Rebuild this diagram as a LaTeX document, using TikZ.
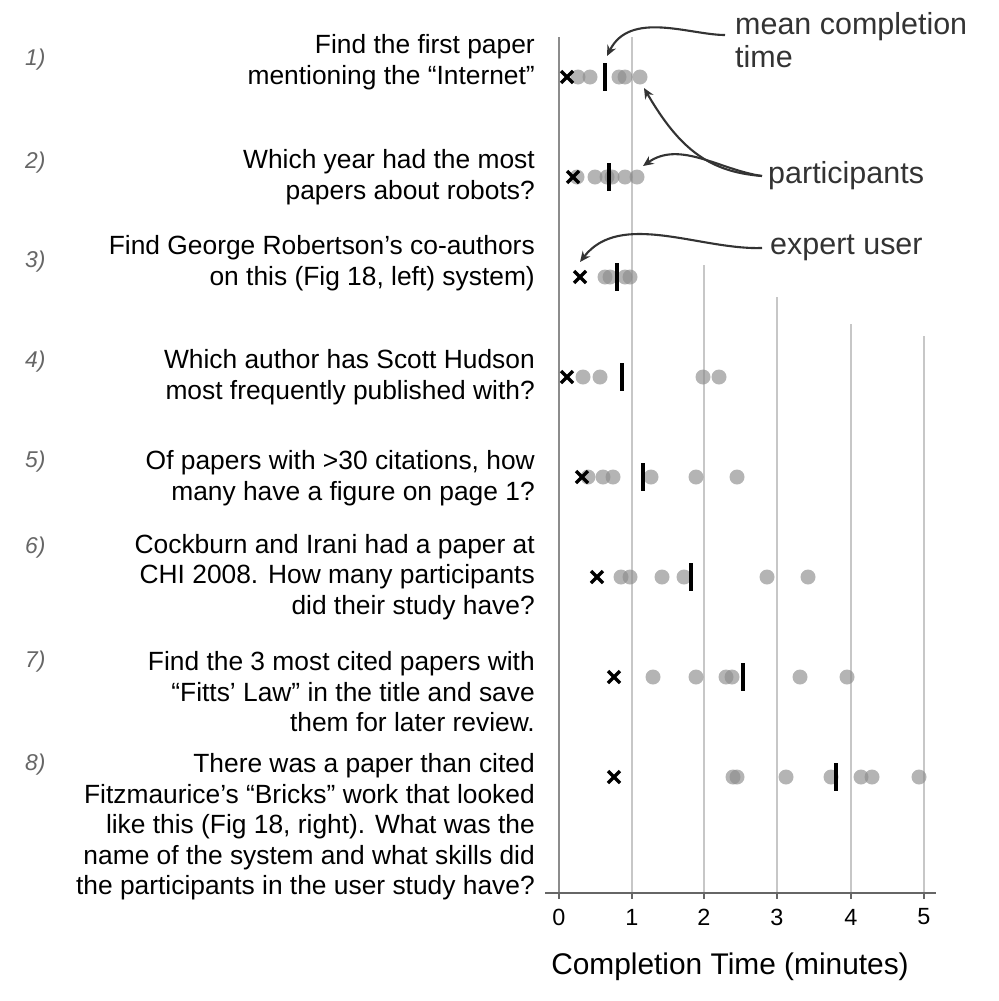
\documentclass[tikz,border=0pt]{standalone}
\usepackage{fontspec}
\setmainfont{Liberation Sans}
\usetikzlibrary{arrows.meta}
\begin{document}
\begin{tikzpicture}[x=0.03cm,y=-0.03cm,
  grid/.style={draw=black!22,line width=1.1pt},
  dot/.style={fill=black!45,fill opacity=0.65,draw=none},
  meanbar/.style={line width=3.4pt,black},
  xmark/.style={line width=2.8pt,black},
  qtext/.style={anchor=east,align=right,inner sep=0,font=\fontsize{22.5}{26}\selectfont},
  qnum/.style={anchor=west,inner sep=0,text=black!60,font=\fontsize{19.5}{22}\selectfont\itshape},
  ann/.style={anchor=west,inner sep=0,text=black!80,font=\fontsize{26}{28}\selectfont},
  annarrow/.style={draw=black!80,line width=1.8pt,-{Stealth[length=9pt,width=8pt]}},
  tick/.style={inner sep=0,font=\fontsize{20}{22}\selectfont}]
\useasboundingbox (0,0) rectangle (998,1001);
% grid
\draw[grid] (632,37) -- (632,893);
\draw[grid] (704,265) -- (704,893);
\draw[grid] (777,297) -- (777,893);
\draw[grid] (851,324) -- (851,893);
\draw[grid] (924,336) -- (924,893);
\draw[draw=black!45,line width=1.2pt] (559,37) -- (559,893);
\draw[draw=black!60,line width=1.3pt] (545,893) -- (936,893);
\foreach \x/\l in {559/0,632/1,704/2,777/3,851/4,924/5}{
  \draw[draw=black!60,line width=1.1pt] (\x,893) -- (\x,899);
  \node[tick] (t\l) at (\x,917) {\l};}
\node[inner sep=0,font=\fontsize{25.5}{28}\selectfont] (xl) at (730,967) {Completion Time (minutes)};
% rows
\newcommand\crossat[2]{\draw[xmark] (#1-6,#2-6) -- (#1+6,#2+6) (#1-6,#2+6) -- (#1+6,#2-6);}
\newcommand\meanat[2]{\draw[meanbar] (#1,#2-14) -- (#1,#2+14);}
\newcommand\dotsat[2]{\foreach \d in {#2}{\fill[dot] (\d,#1) circle[radius=7.5];}}
\dotsat{77}{578,590,619,625,640}\crossat{567}{77}\meanat{605}{77}
\dotsat{177}{577,595,607,612,625,637}\crossat{573}{177}\meanat{609}{177}
\dotsat{277}{605,610,625,630}\crossat{580}{277}\meanat{617}{277}
\dotsat{377}{583,600,703,719}\crossat{567}{377}\meanat{622}{377}
\dotsat{477}{588,603,613,651,696,737}\crossat{582}{477}\meanat{643}{477}
\dotsat{577}{621,630,662,684,767,808}\crossat{597}{577}\meanat{691}{577}
\dotsat{677}{653,696,726,732,800,847}\crossat{614}{677}\meanat{743}{677}
\dotsat{777}{733,737,786,831,861,872,919}\crossat{614}{777}\meanat{836}{777}
% questions
\node[qtext] (q1) at (535,62) {Find the first paper\\mentioning the “Internet”};
\node[qtext] (q2) at (535,177) {Which year had the most\\papers about robots?};
\node[qtext] (q3) at (535,263) {Find George Robertson’s co-authors\\on this (Fig 18, left) system)};
\node[qtext] (q4) at (535,377) {Which author has Scott Hudson\\most frequently published with?};
\node[qtext] (q5) at (535,478) {Of papers with >30 citations, how\\many have a figure on page 1?};
\node[qtext] (q6) at (535,577) {Cockburn and Irani had a paper at\\CHI 2008. How many participants\\did their study have?};
\node[qtext] (q7) at (535,692) {Find the 3 most cited papers with\\“Fitts’ Law” in the title and save\\them for later review.};
\node[qtext] (q8) at (535,827) {There was a paper than cited\\Fitzmaurice’s “Bricks” work that looked\\like this (Fig 18, right). What was the\\name of the system and what skills did\\the participants in the user study have?};
\foreach \n/\y in {1/60,2/163,3/262,4/362,5/462,6/548,7/662,8/765}
  \node[qnum] (n\n) at (25,\y) {\n)};
% annotations
\node[ann,align=left,anchor=north west] (am) at (735,12) {mean completion\\time};
\node[ann] (ap) at (768,176) {participants};
\node[ann] (ae) at (770,248) {expert user};
\coordinate (m0) at (725,35);
\coordinate (m1) at (607,56);
\coordinate (p0) at (762,176);
\coordinate (e0) at (762,248);
\coordinate (p1) at (644,88);
\coordinate (p2) at (643,166);
\coordinate (e1) at (580,262);
\draw[annarrow] (m0) .. controls (690,35) and (630,10) .. (m1);
\draw[annarrow] (p0) .. controls (710,172) and (680,150) .. (p1);
\draw[annarrow] (p0) .. controls (720,170) and (680,140) .. (p2);
\draw[annarrow] (e0) .. controls (700,250) and (620,210) .. (e1);
\end{tikzpicture}
\end{document}
